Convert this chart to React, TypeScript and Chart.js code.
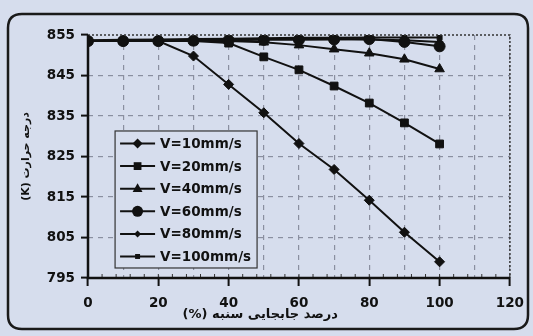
import React, { useEffect, useRef } from "react";
import { Chart, registerables } from "chart.js";

Chart.register(...registerables);

const xValues = [0, 10, 20, 30, 40, 50, 60, 70, 80, 90, 100];
const seriesLabels = ["V=10mm/s", "V=20mm/s", "V=40mm/s", "V=60mm/s", "V=80mm/s", "V=100mm/s"];
const v10 = [853.5, 853.5, 853.5, 849.8, 842.8, 835.8, 828.2, 821.8, 814.2, 806.3, 799];
const v20 = [853.5, 853.5, 853.5, 853.5, 853, 849.6, 846.4, 842.4, 838.2, 833.3, 828.1];
const v40 = [853.5, 853.5, 853.5, 853.5, 853.5, 853.2, 852.5, 851.5, 850.5, 849, 846.6];
const v60 = [853.5, 853.5, 853.5, 853.6, 853.7, 853.8, 853.8, 853.9, 854, 853.3, 852.2];
const v80 = [853.6, 853.6, 853.7, 853.8, 853.9, 854, 854, 854, 853.9, 853.7, 853.3];
const v100 = [853.7, 853.8, 853.9, 854, 854.1, 854.2, 854.3, 854.3, 854.4, 854.4, 854.4];
const yTitle = "درجه حرارت (K)";
const xTitle = "درصد جابجایی سنبه (%)";

const pointStyles = ["rectRot", "rect", "triangle", "circle", "rectRot", "rect"];
const pointRadii = [5, 5.5, 5.5, 5.5, 3.5, 3.5];
const allSeries = [v10, v20, v40, v60, v80, v100];

const BG = "#d6dded";
const FONT = "'DejaVu Sans', sans-serif";

const decorPlugin = {
  id: "decor",
  beforeDraw(chart: any) {
    const ctx = chart.ctx;
    ctx.save();
    ctx.fillStyle = BG;
    ctx.fillRect(0, 0, chart.width, chart.height);
    ctx.beginPath();
    const x = 8, y = 14, w = 520, h = 315, r = 14;
    ctx.moveTo(x + r, y);
    ctx.lineTo(x + w - r, y);
    ctx.quadraticCurveTo(x + w, y, x + w, y + r);
    ctx.lineTo(x + w, y + h - r);
    ctx.quadraticCurveTo(x + w, y + h, x + w - r, y + h);
    ctx.lineTo(x + r, y + h);
    ctx.quadraticCurveTo(x, y + h, x, y + h - r);
    ctx.lineTo(x, y + r);
    ctx.quadraticCurveTo(x, y, x + r, y);
    ctx.closePath();
    ctx.lineWidth = 2.5;
    ctx.strokeStyle = "#1a1a1a";
    ctx.stroke();
    ctx.restore();
  },
  afterDatasetsDraw(chart: any) {
    const ctx = chart.ctx;
    const { left, right, top, bottom } = chart.chartArea;
    const xs = chart.scales.x;
    const ys = chart.scales.y;
    ctx.save();
    // dotted top & right border
    ctx.setLineDash([2, 2]);
    ctx.strokeStyle = "#333";
    ctx.lineWidth = 1.5;
    ctx.beginPath();
    ctx.moveTo(left, top);
    ctx.lineTo(right, top);
    ctx.lineTo(right, bottom);
    ctx.stroke();
    ctx.setLineDash([]);
    // minor ticks on x axis
    ctx.strokeStyle = "#333";
    ctx.lineWidth = 1;
    for (let v = 0; v <= 120; v += 4) {
      const px = xs.getPixelForValue(v);
      ctx.beginPath();
      ctx.moveTo(px, bottom);
      ctx.lineTo(px, bottom - 4);
      ctx.stroke();
    }
    // solid axes
    ctx.strokeStyle = "#111";
    ctx.lineWidth = 2.5;
    ctx.beginPath();
    ctx.moveTo(left, top);
    ctx.lineTo(left, bottom);
    ctx.lineTo(right, bottom);
    ctx.stroke();

    // legend
    const lx = xs.getPixelForValue(7.7);
    const ly = ys.getPixelForValue(831.3);
    const lw = 142;
    const lh = 137;
    ctx.fillStyle = BG;
    ctx.fillRect(lx, ly, lw, lh);
    ctx.strokeStyle = "#333";
    ctx.lineWidth = 1.2;
    ctx.strokeRect(lx, ly, lw, lh);
    chart.data.datasets.forEach((ds: any, i: number) => {
      const cy = ly + 12.5 + i * 22.6;
      ctx.strokeStyle = "#111";
      ctx.lineWidth = 2;
      ctx.beginPath();
      ctx.moveTo(lx + 5, cy);
      ctx.lineTo(lx + 40, cy);
      ctx.stroke();
      ctx.fillStyle = "#111";
      drawMarker(ctx, ds.pointStyle, ds.pointRadius, lx + 22.5, cy);
      ctx.fillStyle = "#111";
      ctx.font = `bold 13.5px ${FONT}`;
      ctx.textAlign = "left";
      ctx.textBaseline = "middle";
      ctx.fillText(ds.label, lx + 45, cy + 1);
    });

    // x title (right-to-left)
    ctx.font = `bold 13px ${FONT}`;
    ctx.fillStyle = "#111";
    ctx.direction = "rtl";
    ctx.textAlign = "center";
    ctx.textBaseline = "middle";
    ctx.fillText(xTitle, xs.getPixelForValue(49), 315);
    ctx.restore();
  },
};

function drawMarker(ctx: CanvasRenderingContext2D, style: string, r: number, x: number, y: number) {
  ctx.beginPath();
  if (style === "circle") {
    ctx.arc(x, y, r, 0, Math.PI * 2);
  } else if (style === "rect") {
    const s = r * Math.SQRT1_2 * 2;
    ctx.rect(x - s / 2, y - s / 2, s, s);
  } else if (style === "rectRot") {
    ctx.moveTo(x, y - r);
    ctx.lineTo(x + r, y);
    ctx.lineTo(x, y + r);
    ctx.lineTo(x - r, y);
    ctx.closePath();
  } else if (style === "triangle") {
    ctx.moveTo(x, y - r);
    ctx.lineTo(x + r * 0.9, y + r * 0.6);
    ctx.lineTo(x - r * 0.9, y + r * 0.6);
    ctx.closePath();
  }
  ctx.fill();
}

export default function App() {
  const ref = useRef<HTMLCanvasElement | null>(null);
  useEffect(() => {
    document.body.style.margin = "0";
    const canvas = ref.current!;
    const chart = new Chart(canvas, {
      type: "line",
      data: {
        datasets: allSeries.map((s, i) => ({
          label: seriesLabels[i],
          data: s.map((v, j) => ({ x: xValues[j], y: v })),
          borderColor: "#111",
          backgroundColor: "#111",
          borderWidth: 2,
          pointStyle: pointStyles[i] as any,
          pointRadius: pointRadii[i],
          pointBackgroundColor: "#111",
          pointBorderColor: "#111",
          pointBorderWidth: 1,
          tension: 0,
        })),
      },
      options: {
        responsive: false,
        animation: false,
        layout: { padding: { left: 20, right: 23, top: 35, bottom: 0 } },
        plugins: { legend: { display: false }, tooltip: { enabled: false } },
        scales: {
          x: {
            type: "linear",
            min: 0,
            max: 120,
            afterFit: (s: any) => { s.height = 58; },
            border: { display: false, dash: [5, 5] },
            grid: {
              color: (c: any) => (c.tick && c.tick.value > 0 ? "#8a8fa0" : "rgba(0,0,0,0)"),
              lineWidth: 1.2,
              tickLength: 8,
              tickColor: (c: any) => (c.tick && c.tick.value % 20 === 0 ? "#111" : "rgba(0,0,0,0)"),
              tickWidth: 2,
            },
            ticks: {
              stepSize: 10,
              autoSkip: false,
              maxRotation: 0,
              padding: 9,
              color: "#111",
              font: { family: FONT, weight: "bold", size: 13.5 },
              callback: (v: any) => (v % 20 === 0 ? String(v) : ""),
            },
          },
          y: {
            min: 795,
            max: 855,
            afterFit: (s: any) => { s.width = 68; },
            border: { display: false, dash: [5, 5] },
            grid: {
              color: (c: any) => (c.tick && c.tick.value > 795 && c.tick.value < 855 ? "#8a8fa0" : "rgba(0,0,0,0)"),
              lineWidth: 1.2,
              tickLength: 7,
              tickColor: "#111",
              tickWidth: 2,
            },
            ticks: {
              stepSize: 10,
              padding: 6,
              color: "#111",
              font: { family: FONT, weight: "bold", size: 13.5 },
            },
            title: {
              display: true,
              text: "\u202B" + yTitle + "\u202C",
              color: "#111",
              font: { family: FONT, weight: "bold", size: 11 },
              padding: { top: 0, bottom: 0 },
            },
          },
        },
      },
      plugins: [decorPlugin],
    });
    return () => chart.destroy();
  }, []);
  return <canvas ref={ref} width={533} height={336} style={{ display: "block" }} />;
}
